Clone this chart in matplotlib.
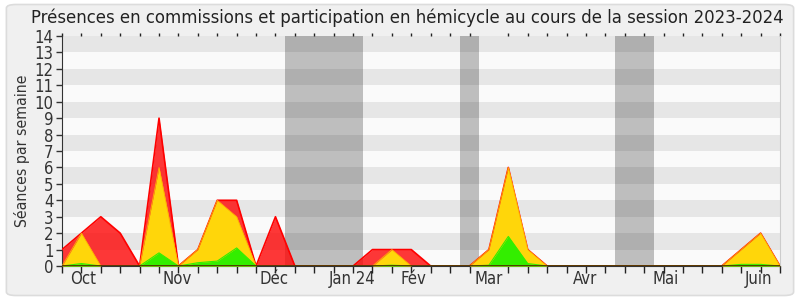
import matplotlib
matplotlib.use("Agg")
import matplotlib.pyplot as plt
from matplotlib.patches import FancyBboxPatch
import numpy as np

plt.rcParams["font.family"] = ["DejaVu Sans"]
plt.rcParams["font.stretch"] = "condensed"

title = "Présences en commissions et participation en hémicycle au cours de la session 2023-2024"
ylabel = "Séances par semaine"

# weekly values per layer (stacked)
green = [0, 0.15, 0, 0, 0, 0.8, 0, 0.2, 0.3, 1.1, 0, 0, 0, 0, 0, 0, 0, 0.05, 0, 0,
         0, 0, 0.05, 1.8, 0.15, 0, 0, 0, 0, 0, 0, 0, 0, 0, 0, 0.1, 0.1, 0]
yellow = [0, 1.85, 0, 0, 0, 5.2, 0, 0.8, 3.7, 1.9, 0, 0, 0, 0, 0, 0, 0, 0.95, 0, 0,
          0, 0, 0.95, 4.2, 0.85, 0, 0, 0, 0, 0, 0, 0, 0, 0, 0, 0.9, 1.9, 0]
red = [1, 0, 3, 2, 0, 3, 0, 0, 0, 1, 0, 3, 0, 0, 0, 0, 1, 0, 1, 0,
       0, 0, 0, 0, 0, 0, 0, 0, 0, 0, 0, 0, 0, 0, 0, 0, 0, 0]

month_labels = ["Oct", "Nov", "Déc", "Jan 24", "Fév", "Mar", "Avr", "Mai", "Juin"]
month_weeks = [1.1, 5.95, 10.95, 14.95, 18.1, 22, 26.95, 31.1, 35.9]

vacations = [(11.5, 15.5), (20.5, 21.5), (28.5, 30.5)]

weeks = np.arange(len(green))
g = np.array(green)
y_tot = g + np.array(yellow)
r_tot = y_tot + np.array(red)

fig = plt.figure(figsize=(8, 3), dpi=100)
fig.patch.set_facecolor("white")
fig.patches.append(FancyBboxPatch((0.008, 0.015), 0.984, 0.97, boxstyle="round,pad=0,rounding_size=0.012",
                                  transform=fig.transFigure, facecolor="#F0F0F0",
                                  edgecolor="#DCDCDC", linewidth=1.2, zorder=-10))
ax = fig.add_axes([0.0775, 0.1133, 0.8975, 0.7667])
ax.set_facecolor("#FAFAFA")

for a, b in vacations:
    ax.axvspan(a, b, color="#BEBEBE", zorder=0.5, lw=0)
for k in range(1, 14, 2):
    ax.axhspan(k, k + 1, color="black", alpha=0.08, zorder=0.6, lw=0)

ax.fill_between(weeks, 0, r_tot, color="#FF0000", alpha=0.78, lw=0, zorder=2)
ax.plot(weeks, r_tot, color="#FF0000", lw=1.2, zorder=3)
ax.fill_between(weeks, 0, y_tot, color="#FFD60A", lw=0, zorder=4)
ax.plot(weeks, y_tot, color="#FFB000", lw=0.6, zorder=4.5)
ax.fill_between(weeks, 0, g, color="#33EE00", lw=0, zorder=5)
ax.plot(weeks, g, color="#33EE00", lw=0.8, zorder=5.5)
ax.axhline(0, color="#552200", lw=1.2, zorder=6)

ax.set_xlim(0, len(green) - 1)
ax.set_ylim(0, 14)
ax.set_yticks(range(0, 15))
ax.tick_params(axis="y", labelsize=12, colors="#333333", length=4, width=1, pad=2)
ax.set_xticks(weeks, minor=True)
ax.set_xticks(month_weeks)
ax.set_xticklabels(month_labels, fontsize=12, color="#333333")
ax.tick_params(axis="x", which="major", length=0, pad=3)
ax.tick_params(axis="x", which="minor", length=5, width=1, color="#222222",
               top=True, bottom=True)
for t in ax.xaxis.get_minor_ticks():
    t.tick2line.set_markersize(2)

ax.spines["top"].set_visible(False)
ax.spines["right"].set_color("#CCCCCC")
ax.spines["left"].set_color("#333333")
ax.spines["bottom"].set_color("#333333")

ax.set_ylabel(ylabel, fontsize=11.3, color="#333333", labelpad=3)
fig.text(0.5095, 0.942, title, ha="center", va="center", fontsize=13.2, color="#222222")

fig.savefig("out.png", dpi=100, facecolor=fig.get_facecolor())
